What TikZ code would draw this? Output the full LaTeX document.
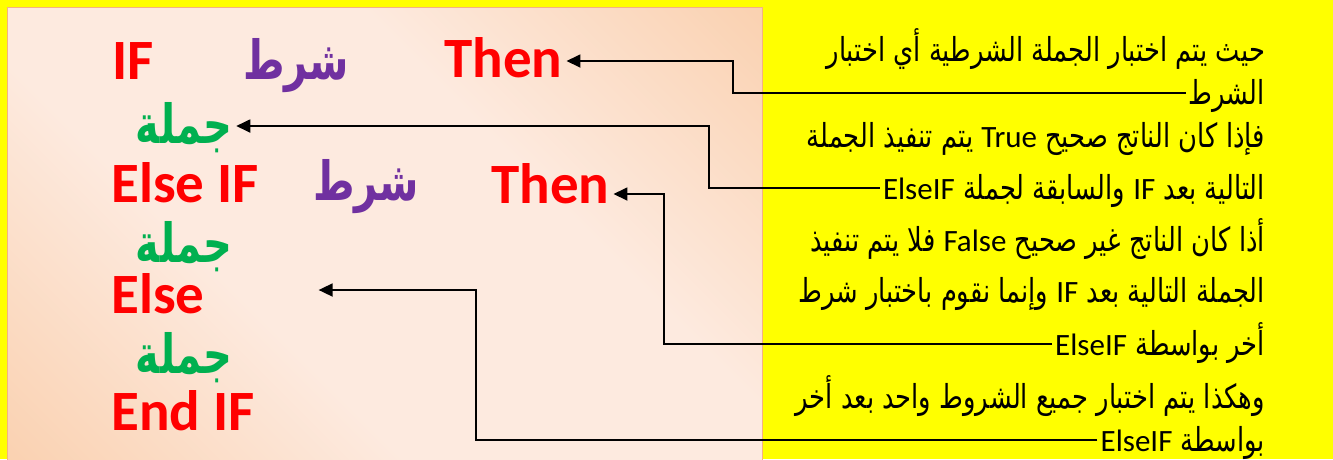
\documentclass[tikz,border=0pt]{standalone}
\usepackage{fontspec}
\setmainfont{Carlito}
\newfontfamily\calib{Carlito}
\newfontfamily\arabR[Script=Arabic,FakeStretch=0.78]{DejaVu Sans}
\newfontfamily\arabL[Script=Arabic,FakeStretch=0.74]{DejaVu Sans}
\TeXXeTstate=1
\usetikzlibrary{arrows.meta}
\definecolor{yel}{HTML}{FFFF00}
\definecolor{pdark}{HTML}{F8C294}
\definecolor{plight}{HTML}{FDEADF}
\definecolor{pedge}{HTML}{F4B183}
\definecolor{kred}{HTML}{FF0000}
\definecolor{kpur}{HTML}{7030A0}
\definecolor{kgrn}{HTML}{00B050}
\pgfdeclarehorizontalshading{peach}{100bp}{color(0bp)=(pdark); color(38bp)=(plight); color(62bp)=(plight); color(100bp)=(pdark)}
\newcommand\la[1]{{\calib\fontsize{31}{36}\selectfont\beginL #1\endL}}
\begin{document}
\begin{tikzpicture}[x=1pt,y=-1pt,
  kw/.style={inner sep=0pt, anchor=base west, text=kred, font=\calib\bfseries\fontsize{57}{61}\selectfont},
  cond/.style={inner sep=0pt, anchor=base, text=kpur, font=\arabL\bfseries\fontsize{54}{60}\selectfont},
  stmt/.style={inner sep=0pt, anchor=base, text=kgrn, font=\arabL\bfseries\fontsize{54}{60}\selectfont},
  rt/.style={anchor=base east, inner xsep=3pt, inner ysep=0pt, text height=24pt, text depth=2pt, font=\arabR\fontsize{33}{38}\selectfont},
  arr/.style={line width=1.8pt, -{Triangle[length=14pt,width=13pt]}, shorten >=4pt}
]
\fill[yel] (0,0) rectangle (1333,459);
\useasboundingbox (0,0) rectangle (1333,459);
\shade[shading=peach, shading angle=45] (7,7) rectangle (762,462);
\draw[pedge, line width=0.8pt] (7,462) -- (7,7) -- (762,7) -- (762,462);

% left code
\node[kw] (if1) at (112,79) {IF};
\node[cond] (s1) at (296,79) {\beginR شرط\endR};
\node[kw] (then1) at (444,77) {Then};
\node[stmt] (j1) at (184,143) {\beginR جملة\endR};
\node[kw] (elseif) at (111,202) {Else IF};
\node[cond] (s2) at (366,200) {\beginR شرط\endR};
\node[kw] (then2) at (491,203) {Then};
\node[stmt] (j2) at (184,262) {\beginR جملة\endR};
\node[kw] (else) at (111,313) {Else};
\node[stmt] (j3) at (184,373) {\beginR جملة\endR};
\node[kw] (endif) at (111,430) {End IF};

% right text
\node[rt] (t1) at (1268,61) {\beginR حيث يتم اختبار الجملة الشرطية أي اختبار\endR};
\node[rt] (t2) at (1268,104) {\beginR الشرط\endR};
\node[rt] (t3) at (1268,147) {\beginR فإذا كان الناتج صحيح \la{True} يتم تنفيذ الجملة\endR};
\node[rt] (t4) at (1268,199) {\beginR التالية بعد \la{IF} والسابقة لجملة \la{ElseIF}\endR};
\node[rt] (t5) at (1268,251) {\beginR أذا كان الناتج غير صحيح \la{False} فلا يتم تنفيذ\endR};
\node[rt] (t6) at (1268,302) {\beginR الجملة التالية بعد \la{IF} وإنما نقوم باختبار شرط\endR};
\node[rt] (t7) at (1268,355) {\beginR أخر بواسطة \la{ElseIF}\endR};
\node[rt] (t8) at (1268,408) {\beginR وهكذا يتم اختبار جميع الشروط واحد بعد أخر\endR};
\node[rt] (t9) at (1268,451) {\beginR بواسطة \la{ElseIF}\endR};

% turn points
\coordinate (k1) at (733,0);
\coordinate (k2) at (709,0);
\coordinate (k3) at (664,0);
\coordinate (k4) at (476,0);

\draw[arr] (t2.west) -- (t2.west -| k1) |- ([yshift=16pt]then1.base east);
\draw[arr] (t4.west) -- (t4.west -| k2) |- ([yshift=17pt]j1.base east);
\draw[arr] (t7.west) -- (t7.west -| k3) |- ([yshift=9pt]then2.base east);
\draw[arr] (t9.west) -- (t9.west -| k4) |- ([xshift=110pt,yshift=23pt]else.base east);
\end{tikzpicture}
\end{document}
